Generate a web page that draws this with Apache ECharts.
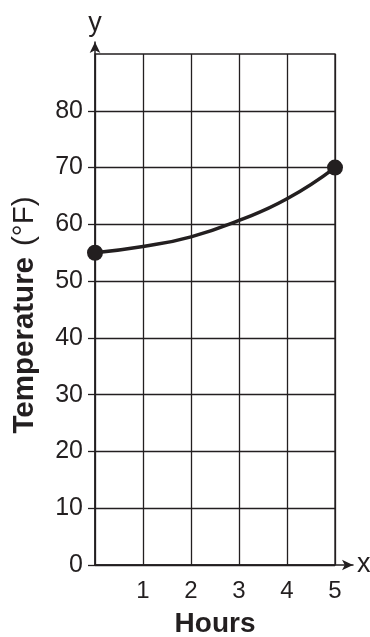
<!DOCTYPE html>
<html><head><meta charset="utf-8">
<script src="https://cdn.jsdelivr.net/npm/echarts@6/dist/echarts.min.js"></script>
<style>html,body{margin:0;padding:0;background:#fff}#c{width:370px;height:637px}</style>
</head><body><div id="c"></div>
<script>
var hours = [0, 1, 2, 3, 4, 5];
var temps = [55, 56.1, 57.8, 60.7, 64.5, 70];
var endpointHours = [0, 5];
var yTickLabels = [0, 10, 20, 30, 40, 50, 60, 70, 80];
var xTickLabels = [1, 2, 3, 4, 5];
var INK = '#231f20';
var FONT = '"Liberation Sans", Arial, Helvetica, sans-serif';

var lineData = hours.map(function (h, i) {
  var isEnd = endpointHours.indexOf(h) >= 0;
  return { value: [h, temps[i]], symbol: isEnd ? 'circle' : 'none', symbolSize: 16 };
});

var chart = echarts.init(document.getElementById('c'), null, { renderer: 'canvas' });
chart.setOption({
  animation: false,
  backgroundColor: '#fff',
  grid: [
    { left: 95, right: 35, top: 54, bottom: 72, containLabel: false, outerBoundsMode: 'none',
      show: true, borderColor: INK, borderWidth: 1.3, backgroundColor: 'transparent' },
    { left: 95, right: 17, top: 42, bottom: 72, containLabel: false, outerBoundsMode: 'none' }
  ],
  xAxis: [{
    type: 'value', min: 0, max: 5, interval: 1, gridIndex: 0,
    name: 'Hours', nameLocation: 'middle', nameGap: 45,
    nameTextStyle: { fontFamily: FONT, fontWeight: 'bold', fontSize: 28, color: INK },
    axisLine: { show: false },
    axisTick: { show: false },
    axisLabel: { customValues: xTickLabels, margin: 14, fontFamily: FONT, fontSize: 24, color: INK },
    splitLine: { show: true, lineStyle: { color: INK, width: 1.3 } }
  }, {
    type: 'value', min: 0, max: 1, gridIndex: 1,
    name: 'x', nameLocation: 'end', nameGap: 4,
    nameTextStyle: { fontFamily: FONT, fontSize: 27, color: INK, verticalAlign: 'middle', padding: [6, 0, 0, 0] },
    axisLine: { show: true, symbol: ['none', 'arrow'], symbolSize: [8, 11], lineStyle: { color: INK, width: 1.5 } },
    axisTick: { show: false }, axisLabel: { show: false }, splitLine: { show: false }
  }],
  yAxis: [{
    type: 'value', min: 0, max: 90, interval: 10, gridIndex: 0,
    name: '{b|Temperature}{n|(°F)}', nameLocation: 'middle', nameGap: 55, nameRotate: 90,
    nameTextStyle: {
      rich: {
        b: { fontFamily: FONT, fontWeight: 'bold', fontSize: 29.5, color: INK },
        n: { fontFamily: FONT, fontSize: 29.5, color: INK, padding: [0, 11, 0, 11] }
      }
    },
    axisLine: { show: false },
    axisTick: { show: true, customValues: yTickLabels, length: 7, lineStyle: { color: INK, width: 1.3 } },
    axisLabel: { customValues: yTickLabels, margin: 12, fontFamily: FONT, fontSize: 25, color: INK },
    splitLine: { show: true, lineStyle: { color: INK, width: 1.3 } }
  }, {
    type: 'value', min: 0, max: 1, gridIndex: 1,
    name: 'y', nameLocation: 'end', nameGap: 5,
    nameTextStyle: { fontFamily: FONT, fontSize: 27, color: INK, align: 'center' },
    axisLine: { show: true, symbol: ['none', 'arrow'], symbolSize: [8, 11], lineStyle: { color: INK, width: 1.5 } },
    axisTick: { show: false }, axisLabel: { show: false }, splitLine: { show: false }
  }],
  series: [{
    type: 'line',
    xAxisIndex: 0, yAxisIndex: 0,
    smooth: 0.5,
    clip: false,
    data: lineData,
    showSymbol: true,
    itemStyle: { color: INK },
    lineStyle: { color: INK, width: 3.5 },
    z: 5
  }]
});
</script></body></html>
